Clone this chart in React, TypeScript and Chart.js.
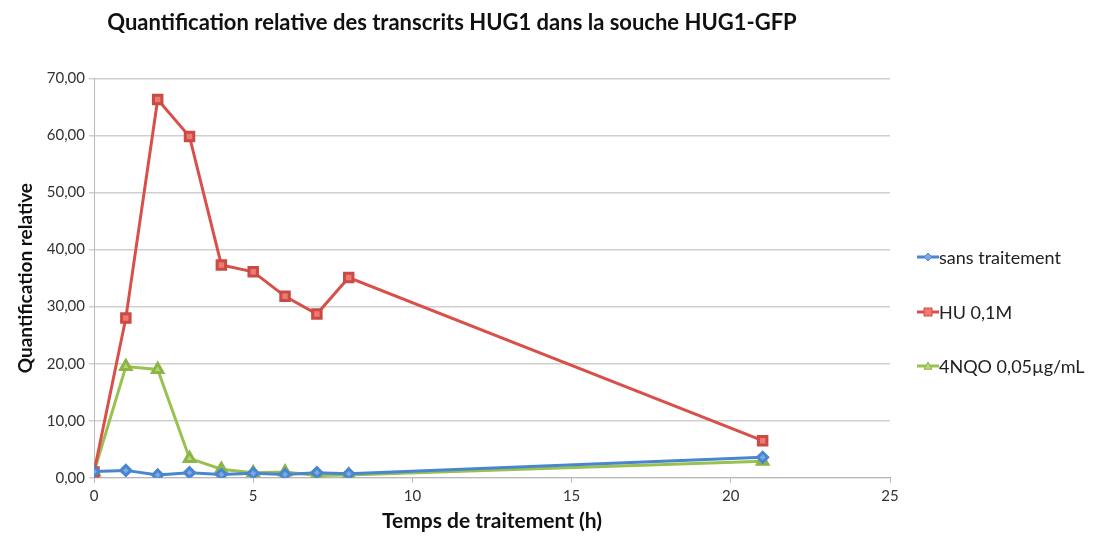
import React, { useEffect, useRef } from "react";
import { Chart, registerables } from "chart.js";

Chart.register(...registerables);

const hours = [0, 1, 2, 3, 4, 5, 6, 7, 8, 21];
const sansTraitement = [1.1, 1.3, 0.5, 0.9, 0.6, 0.8, 0.6, 0.9, 0.7, 3.6];
const hu = [1.0, 28.0, 66.3, 59.8, 37.3, 36.1, 31.8, 28.7, 35.1, 6.5];
const nqo = [1.0, 19.5, 19.0, 3.4, 1.5, 0.9, 1.0, 0.4, 0.5, 2.9];
const seriesLabels = ["sans traitement", "HU 0,1M", "4NQO 0,05µg/mL"];
const titleText = "Quantification relative des transcrits HUG1 dans la souche HUG1-GFP";
const xTitle = "Temps de traitement (h)";
const yTitle = "Quantification relative";

const FONT = "Lato, 'Open Sans', sans-serif";

const legendPlugin = {
  id: "sideLegend",
  afterDraw(chart: any) {
    const ctx = chart.ctx;
    const x0 = 917;
    const ys = [257, 312, 366];
    ctx.save();
    chart.data.datasets.forEach((ds: any, i: number) => {
      const y = ys[i];
      ctx.strokeStyle = ds.borderColor;
      ctx.lineWidth = 3;
      ctx.beginPath();
      ctx.moveTo(x0, y);
      ctx.lineTo(x0 + 22, y);
      ctx.stroke();
      ctx.fillStyle = ds.pointBackgroundColor;
      ctx.strokeStyle = ds.pointBorderColor;
      ctx.lineWidth = 1;
      const s = 4;
      const cx = x0 + 11;
      ctx.beginPath();
      if (ds.pointStyle === "rect") {
        ctx.rect(cx - s, y - s, 2 * s, 2 * s);
      } else if (ds.pointStyle === "rectRot") {
        ctx.moveTo(cx, y - s);
        ctx.lineTo(cx + s, y);
        ctx.lineTo(cx, y + s);
        ctx.lineTo(cx - s, y);
        ctx.closePath();
      } else {
        ctx.moveTo(cx, y - s);
        ctx.lineTo(cx + s, y + s * 0.8);
        ctx.lineTo(cx - s, y + s * 0.8);
        ctx.closePath();
      }
      ctx.fill();
      ctx.stroke();
      ctx.fillStyle = "#222";
      ctx.font = `18px ${FONT}`;
      ctx.textBaseline = "middle";
      ctx.textAlign = "left";
      ctx.fillText(ds.label, x0 + 22, y + 1);
    });
    ctx.restore();
  },
};

export default function App() {
  const ref = useRef<HTMLCanvasElement>(null);
  useEffect(() => {
    if (!ref.current) return;
    const mk = (data: number[]) => hours.map((h, i) => ({ x: h, y: data[i] }));
    const chart = new Chart(ref.current, {
      type: "line",
      data: {
        datasets: [
          {
            label: seriesLabels[0],
            data: mk(sansTraitement),
            borderColor: "#4a86cf",
            backgroundColor: "#4a86cf",
            pointBackgroundColor: "#7aaae6",
            pointBorderColor: "#4a86cf",
            pointStyle: "rectRot",
            pointRadius: 5,
            borderWidth: 3,
            tension: 0,
          },
          {
            label: seriesLabels[1],
            data: mk(hu),
            borderColor: "#d9504a",
            backgroundColor: "#d9504a",
            pointBackgroundColor: "#ec7a72",
            pointBorderColor: "#cc4a44",
            pointStyle: "rect",
            pointRadius: 6,
            borderWidth: 3,
            tension: 0,
          },
          {
            label: seriesLabels[2],
            data: mk(nqo),
            borderColor: "#98c14f",
            backgroundColor: "#98c14f",
            pointBackgroundColor: "#b4d872",
            pointBorderColor: "#8cb446",
            pointStyle: "triangle",
            pointRadius: 6,
            borderWidth: 3,
            tension: 0,
          },
        ],
      } as any,
      options: {
        animation: false,
        responsive: false,
        layout: { padding: { left: 14, right: 229, top: 0, bottom: 6 } },
        plugins: {
          legend: { display: false },
          tooltip: { enabled: false },
          title: {
            display: true,
            text: titleText,
            color: "#111",
            font: { family: FONT, size: 22, weight: "bold" },
            padding: { top: 10, bottom: 42 },
          },
        },
        scales: {
          x: {
            type: "linear",
            min: 0,
            max: 25,
            ticks: {
              stepSize: 5,
              color: "#333",
              font: { family: FONT, size: 15 },
              padding: 4,
            },
            grid: {
              drawOnChartArea: false,
              drawTicks: true,
              tickLength: 5,
              color: "#b8b8b8",
            },
            border: { color: "#b8b8b8", width: 1 },
            title: {
              display: true,
              text: xTitle,
              color: "#111",
              font: { family: FONT, size: 21, weight: "bold" },
              padding: { top: 0, bottom: 0 },
            },
          },
          y: {
            min: 0,
            max: 70,
            ticks: {
              stepSize: 10,
              color: "#333",
              font: { family: FONT, size: 15 },
              padding: 4,
              callback: (v: any) => Number(v).toFixed(2).replace(".", ","),
            },
            grid: { color: "#cfcfcf", tickLength: 5, lineWidth: 1.5 },
            border: { color: "#b8b8b8", width: 1 },
            title: {
              display: true,
              text: yTitle,
              color: "#111",
              font: { family: FONT, size: 19, weight: "bold" },
              padding: { top: 0, bottom: 6 },
            },
          },
        },
      },
      plugins: [legendPlugin],
    });
    return () => chart.destroy();
  }, []);
  return (
    <div style={{ position: "fixed", left: 0, top: 0, width: 1119, height: 540, background: "#fff" }}>
      <canvas ref={ref} width={1119} height={540} />
    </div>
  );
}
